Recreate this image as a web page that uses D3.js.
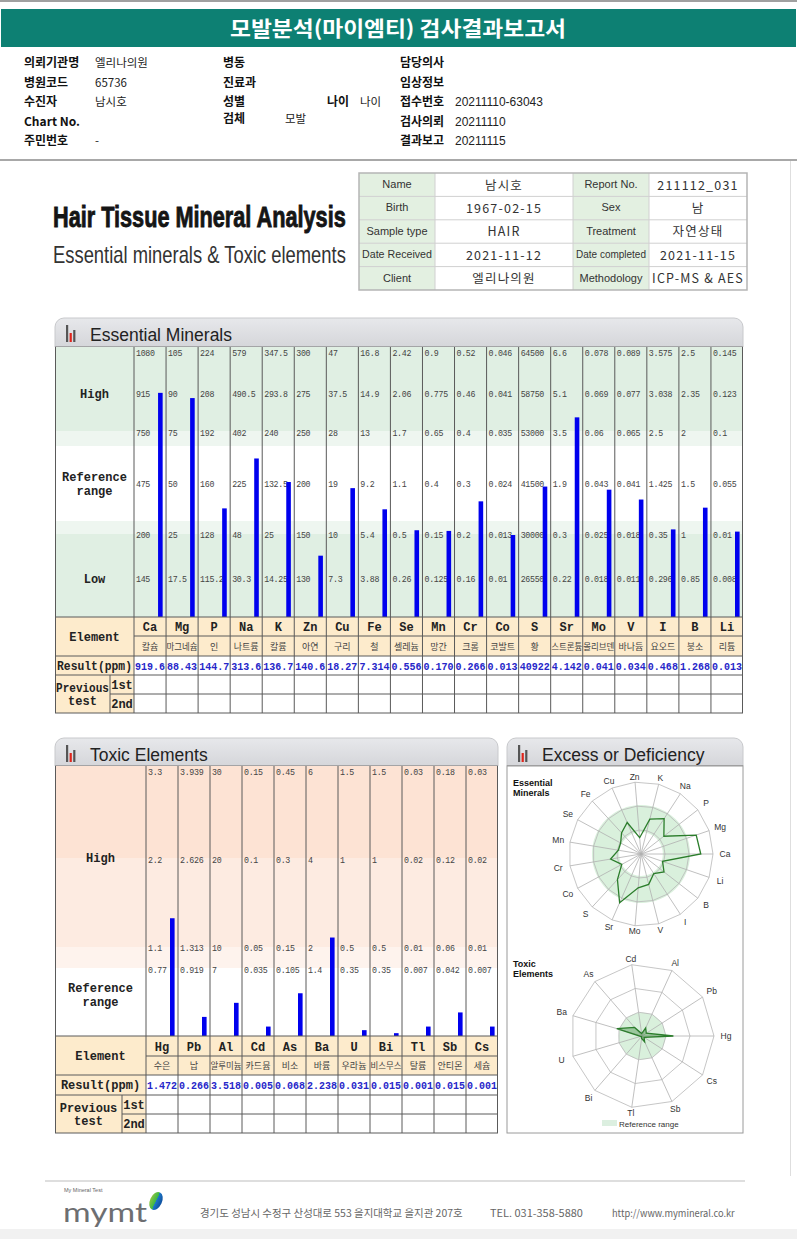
<!DOCTYPE html>
<html><head><meta charset="utf-8">
<script src="https://cdn.jsdelivr.net/npm/d3@7"></script>
<style>html,body{margin:0;padding:0;background:#fff}svg{display:block}</style>
</head><body>
<svg id="chart" width="797" height="1239"></svg>
<script>
// ---------------- DATA ----------------
const reportTitle = "모발분석(마이엠티) 검사결과보고서";
const infoLabelsA = ["의뢰기관명","병원코드","수진자","Chart No.","주민번호"];
const infoValuesA = ["엘리나의원","65736","남시호","","-"];
const infoLabelsB = ["병동","진료과","성별","검체",""];
const infoValuesB = ["","","","모발",""];
const infoLabelsC = ["담당의사","임상정보","접수번호","검사의뢰","결과보고"];
const infoValuesC = ["","","20211110-63043","20211110","20211115"];
const ageLabel = "나이", ageValue = "나이";

const tableLabelsL = ["Name","Birth","Sample type","Date Received","Client"];
const tableValuesL = ["남시호","1967-02-15","HAIR","2021-11-12","엘리나의원"];
const tableLabelsR = ["Report No.","Sex","Treatment","Date completed","Methodology"];
const tableValuesR = ["211112_031","남","자연상태","2021-11-15","ICP-MS & AES"];

const mainTitle = "Hair Tissue Mineral Analysis";
const subTitle = "Essential minerals & Toxic elements";

const essentialElements = ["Ca","Mg","P","Na","K","Zn","Cu","Fe","Se","Mn","Cr","Co","S","Sr","Mo","V","I","B","Li"];
const essentialKorean = ["칼슘","마그네슘","인","나트륨","칼륨","아연","구리","철","셀레늄","망간","크롬","코발트","황","스트론튬","몰리브덴","바나듐","요오드","붕소","리튬"];
const essentialLevels = [
  [1080,915,750,475,200,145],
  [105,90,75,50,25,17.5],
  [224,208,192,160,128,115.2],
  [579,490.5,402,225,48,30.3],
  [347.5,293.8,240,132.5,25,14.25],
  [300,275,250,200,150,130],
  [47,37.5,28,19,10,7.3],
  [16.8,14.9,13,9.2,5.4,3.88],
  [2.42,2.06,1.7,1.1,0.5,0.26],
  [0.9,0.775,0.65,0.4,0.15,0.125],
  [0.52,0.46,0.4,0.3,0.2,0.16],
  [0.046,0.041,0.035,0.024,0.013,0.01],
  [64500,58750,53000,41500,30000,26550],
  [6.6,5.1,3.5,1.9,0.3,0.22],
  [0.078,0.069,0.06,0.043,0.025,0.018],
  [0.089,0.077,0.065,0.041,0.018,0.011],
  [3.575,3.038,2.5,1.425,0.35,0.296],
  [2.5,2.35,2,1.5,1,0.85],
  [0.145,0.123,0.1,0.055,0.01,0.008]
];
const essentialResults = ["919.6","88.43","144.7","313.6","136.7","140.6","18.27","7.314","0.556","0.170","0.266","0.013","40922","4.142","0.041","0.034","0.468","1.268","0.013"];

const toxicElements = ["Hg","Pb","Al","Cd","As","Ba","U","Bi","Tl","Sb","Cs"];
const toxicKorean = ["수은","납","알루미늄","카드뮴","비소","바륨","우라늄","비스무스","탈륨","안티몬","세슘"];
const toxicLevels = [
  [3.3,2.2,1.1,0.77],
  [3.939,2.626,1.313,0.919],
  [30,20,10,7],
  [0.15,0.1,0.05,0.035],
  [0.45,0.3,0.15,0.105],
  [6,4,2,1.4],
  [1.5,1,0.5,0.35],
  [1.5,1,0.5,0.35],
  [0.03,0.02,0.01,0.007],
  [0.18,0.12,0.06,0.042],
  [0.03,0.02,0.01,0.007]
];
const toxicResults = ["1.472","0.266","3.518","0.005","0.068","2.238","0.031","0.015","0.001","0.015","0.001"];

const footerAddress = "경기도 성남시 수정구 산성대로 553 을지대학교 을지관 207호";
const footerTel = "TEL. 031-358-5880";
const footerUrl = "http://www.mymineral.co.kr";

// ---------------- HELPERS ----------------
const KR = "'Noto Sans CJK KR','Noto Sans CJK SC',sans-serif";
const MONO = "'Liberation Mono','DejaVu Sans Mono',monospace";
const SANS = "'Liberation Sans',Arial,sans-serif";
const svg = d3.select("#chart");

// text helper; o.w = exact target width (scaled horizontally), o.fit = max width
function T(p, x, y, s, o = {}) {
  const t = p.append("text").attr("x", x).attr("y", y).text(s)
    .attr("font-family", o.ff || SANS).attr("font-size", o.fs || 12)
    .attr("fill", o.fill || "#222");
  if (o.fw) t.attr("font-weight", o.fw);
  if (o.anchor) t.attr("text-anchor", o.anchor);
  if (o.ls != null) t.attr("letter-spacing", o.ls);
  if (o.stroke) t.attr("stroke", o.fill || "#222").attr("stroke-width", o.stroke);
  if (o.w || o.fit) {
    const w = t.node().getComputedTextLength();
    let k = 1;
    if (o.w) k = o.w / w;
    else if (w > o.fit) k = o.fit / w;
    if (k !== 1) t.attr("x", 0).attr("y", 0).attr("transform", `translate(${x},${y}) scale(${k},1)`);
  }
  return t;
}
function R(p, x, y, w, h, fill, stroke, sw) {
  return p.append("rect").attr("x", x).attr("y", y).attr("width", w).attr("height", h)
    .attr("fill", fill || "none").attr("stroke", stroke || "none").attr("stroke-width", sw || 1);
}
function L(p, x1, y1, x2, y2, c, w) {
  return p.append("line").attr("x1", x1).attr("y1", y1).attr("x2", x2).attr("y2", y2)
    .attr("stroke", c || "#555").attr("stroke-width", w || 1);
}

// ---------------- TOP HEADER ----------------
R(svg, 0, 0, 797, 2, "#a0a0a0");
R(svg, 1, 9, 795, 38, "#0d8073");
T(svg, 398, 36, reportTitle, {ff: KR, fs: 21, fw: 700, fill: "#fff", anchor: "middle", w: 336});

const infoRowY = [67, 86.5, 106, 126, 145];
infoRowY.forEach((y, i) => {
  T(svg, 24, y, infoLabelsA[i], {ff: KR, fs: 12, fw: 700, fill: "#111"});
  T(svg, 95, y, infoValuesA[i], {ff: KR, fs: 11.5, fill: "#222"});
  T(svg, 223, i === 3 ? y - 3 : y, infoLabelsB[i], {ff: KR, fs: 12, fw: 700, fill: "#111"});
  T(svg, 285, i === 3 ? y - 3 : y, infoValuesB[i], {ff: KR, fs: 11.5, fill: "#222"});
  T(svg, 400, y, infoLabelsC[i], {ff: KR, fs: 12, fw: 700, fill: "#111"});
  T(svg, 455, y, infoValuesC[i], {ff: SANS, fs: 12, fill: "#222", fit: 88});
});
T(svg, 327, infoRowY[2], ageLabel, {ff: KR, fs: 12, fw: 700, fill: "#111"});
T(svg, 360, infoRowY[2], ageValue, {ff: KR, fs: 11.5, fill: "#222"});

R(svg, 0, 159, 797, 2, "#a8a8a8");
L(svg, 790.5, 161, 790.5, 1176, "#dedede", 1);

// ---------------- INFO TABLE ----------------
const tb = svg.append("g");
const tX = [359, 435, 573, 649, 747], tTop = 173, tRowH = 23.4;
tableLabelsL.forEach((lab, i) => {
  const y = tTop + i * tRowH;
  R(tb, tX[0], y, tX[1] - tX[0], tRowH, "#e3f0e1");
  R(tb, tX[2], y, tX[3] - tX[2], tRowH, "#e3f0e1");
  T(tb, (tX[0] + tX[1]) / 2, y + 15, lab, {fs: 11, fill: "#333", anchor: "middle", fit: 70});
  T(tb, (tX[2] + tX[3]) / 2, y + 15, tableLabelsR[i], {fs: 11, fill: "#333", anchor: "middle", fit: 70});
  T(tb, (tX[1] + tX[2]) / 2, y + 16.5, tableValuesL[i], {ff: KR, fs: 12.5, fill: "#333", anchor: "middle", ls: 1.2, fit: 130});
  T(tb, (tX[3] + tX[4]) / 2, y + 16.5, tableValuesR[i], {ff: KR, fs: 12.5, fill: "#333", anchor: "middle", ls: 1.2, fit: 95});
  if (i > 0) L(tb, tX[0], y, tX[4], y, "#d0d0d0");
});
[1, 2, 3].forEach(k => L(tb, tX[k], tTop, tX[k], tTop + 5 * tRowH, "#d0d0d0"));
R(tb, tX[0], tTop, tX[4] - tX[0], 5 * tRowH, "none", "#b5b5b5", 1.5);

// ---------------- TITLE ----------------
T(svg, 53, 227, mainTitle, {ff: SANS, fs: 30, fw: 700, fill: "#151515", w: 293, stroke: 0.9});
T(svg, 53, 263, subTitle, {ff: SANS, fs: 23, fill: "#333", w: 293});

// ---------------- PANEL HEADERS ----------------
const defs = svg.append("defs");
const hg = defs.append("linearGradient").attr("id", "hdr").attr("x1", 0).attr("y1", 0).attr("x2", 0).attr("y2", 1);
hg.append("stop").attr("offset", 0).attr("stop-color", "#e7e8eb");
hg.append("stop").attr("offset", 1).attr("stop-color", "#d5d6da");

function panelHeader(x0, x1, y0, y1, title) {
  const r = 9, p = d3.path();
  p.moveTo(x0, y1); p.lineTo(x0, y0 + r); p.arcTo(x0, y0, x0 + r, y0, r);
  p.lineTo(x1 - r, y0); p.arcTo(x1, y0, x1, y0 + r, r); p.lineTo(x1, y1); p.closePath();
  svg.append("path").attr("d", p.toString()).attr("fill", "url(#hdr)").attr("stroke", "#c8c9cc");
  L(svg, x0, y1, x1, y1, "#7a7a7a", 1.2);
  R(svg, x0 + 11, y0 + 7, 2.2, 17, "#555");
  R(svg, x0 + 14.6, y0 + 15, 2.2, 9, "#e0241b");
  R(svg, x0 + 18.2, y0 + 12, 2.2, 12, "#555");
  T(svg, x0 + 35, y0 + 23, title, {fs: 17.5, fill: "#222"});
}
panelHeader(55, 743, 318, 347, "Essential Minerals");
panelHeader(55, 498, 738, 766, "Toxic Elements");
panelHeader(507, 743, 738, 766, "Excess or Deficiency");

// ---------------- BAR PANELS ----------------
function barPanel(c) {
  const g = svg.append("g");
  const x = d3.scaleBand().domain(c.elements).range([c.xLab, c.x1]);
  const bw = x.bandwidth();
  const scales = c.levels.map(lv => d3.scaleLinear().domain([...lv, 0]).range([...c.tickY, c.bottom]).clamp(true));
  c.bands.forEach(b => R(g, c.x0, b[0], c.x1 - c.x0, b[1] - b[0], b[2]));
  c.elements.forEach((el, i) => {
    c.levels[i].forEach(v => {
      T(g, x(el) + 2, scales[i](v) + 3, String(v), {ff: MONO, fs: 8.3, fill: "#444", ls: -0.3, fit: bw - 3});
    });
  });
  g.selectAll("rect.bar").data(c.elements).join("rect").attr("class", "bar")
    .attr("x", d => x(d) + bw - 8).attr("width", 4.6)
    .attr("y", (d, i) => scales[i](+c.results[i]))
    .attr("height", (d, i) => c.bottom - scales[i](+c.results[i]))
    .attr("fill", "#0000ee");
  c.sideLabels.forEach(s => s.lines.forEach((ln, k) =>
    T(g, (c.x0 + c.xLab) / 2, s.y + k * c.lineGap, ln, {ff: MONO, fs: 12, fw: 700, fill: "#222", anchor: "middle"})));
  const ry = c.rowY;
  R(g, c.x0, ry[0], c.x1 - c.x0, ry[2] - ry[0], "#fdebcc");
  R(g, c.x0, ry[2], c.xLab - c.x0, ry[5] - ry[2], "#fdebcc");
  R(g, c.xLab, ry[2], c.x1 - c.xLab, ry[5] - ry[2], "#ffffff");
  c.elements.forEach((el, i) => {
    const cx = x(el) + bw / 2;
    T(g, cx, (ry[0] + ry[1]) / 2 + 4.5, el, {ff: MONO, fs: 12, fw: 700, fill: "#222", anchor: "middle"});
    T(g, cx, (ry[1] + ry[2]) / 2 + 3.5, c.korean[i], {ff: KR, fs: 9, fill: "#444", anchor: "middle", fit: bw - 1});
    T(g, cx, (ry[2] + ry[3]) / 2 + 4, c.results[i], {ff: MONO, fs: 10.5, fw: 700, fill: "#2626c9", anchor: "middle", fit: bw - 2});
  });
  const lc = (c.x0 + c.xLab) / 2;
  T(g, lc, (ry[0] + ry[2]) / 2 + 4, "Element", {ff: MONO, fs: 12, fw: 700, fill: "#222", anchor: "middle"});
  T(g, lc, (ry[2] + ry[3]) / 2 + 4, "Result(ppm)", {ff: MONO, fs: 12, fw: 700, fill: "#222", anchor: "middle", fit: c.xLab - c.x0 - 4});
  T(g, (c.x0 + c.split) / 2, (ry[3] + ry[5]) / 2 - 2, "Previous", {ff: MONO, fs: 12, fw: 700, fill: "#222", anchor: "middle", fit: c.split - c.x0 - 2});
  T(g, (c.x0 + c.split) / 2, (ry[3] + ry[5]) / 2 + 11, "test", {ff: MONO, fs: 12, fw: 700, fill: "#222", anchor: "middle"});
  T(g, (c.split + c.xLab) / 2, (ry[3] + ry[4]) / 2 + 4, "1st", {ff: MONO, fs: 12, fw: 700, fill: "#222", anchor: "middle"});
  T(g, (c.split + c.xLab) / 2, (ry[4] + ry[5]) / 2 + 4, "2nd", {ff: MONO, fs: 12, fw: 700, fill: "#222", anchor: "middle"});
  const gc = "#5a5a5a";
  c.elements.forEach(el => L(g, x(el), c.top, x(el), ry[5], gc));
  L(g, c.x0 + 0.5, c.top, c.x0 + 0.5, ry[5], gc);
  L(g, c.x1 - 0.5, c.top, c.x1 - 0.5, ry[5], gc);
  L(g, c.x0, ry[0], c.x1, ry[0], gc);
  L(g, c.xLab, ry[1], c.x1, ry[1], gc);
  L(g, c.x0, ry[2], c.x1, ry[2], gc);
  L(g, c.x0, ry[3], c.x1, ry[3], gc);
  L(g, c.split, ry[4], c.x1, ry[4], gc);
  L(g, c.x0, ry[5], c.x1, ry[5], gc);
  L(g, c.split, ry[3], c.split, ry[5], gc);
  return scales;
}

const essScales = barPanel({
  elements: essentialElements, korean: essentialKorean, levels: essentialLevels, results: essentialResults,
  x0: 55, xLab: 134, x1: 743, top: 347, bottom: 617,
  tickY: [353, 394, 433, 484, 535, 579],
  bands: [[347, 431, "#e0efe3"], [431, 446, "#eef6f0"], [446, 521, "#ffffff"], [521, 534, "#eef6f0"], [534, 617, "#e0efe3"]],
  sideLabels: [{y: 398, lines: ["High"]}, {y: 480.5, lines: ["Reference", "range"]}, {y: 583, lines: ["Low"]}],
  lineGap: 14,
  rowY: [617, 636, 656, 675, 694, 713], split: 110
});
const toxScales = barPanel({
  elements: toxicElements, korean: toxicKorean, levels: toxicLevels, results: toxicResults,
  x0: 55, xLab: 146, x1: 498, top: 766, bottom: 1036,
  tickY: [772, 860, 948, 970],
  bands: [[766, 858, "#fde3d4"], [858, 947, "#fdebe1"], [947, 968, "#fef3ed"], [968, 1036, "#ffffff"]],
  sideLabels: [{y: 862, lines: ["High"]}, {y: 992, lines: ["Reference", "range"]}],
  lineGap: 14,
  rowY: [1036, 1056, 1075, 1095, 1114, 1133], split: 122
});

// ---------------- RADAR PANEL ----------------
R(svg, 507, 766, 236, 367, "#fff", "#9a9a9a", 1);

function radar(c) {
  const g = svg.append("g");
  const n = c.elements.length, Rr = c.R;
  const ang = i => -i * 2 * Math.PI / n;
  const frac = (s, v) => (c.bottom - s(v)) / (c.bottom - c.top);
  const rScale = d3.scaleLinear().domain([0, 1]).range([0, Rr]);
  const p = d3.path();
  p.arc(c.cx, c.cy, rScale(c.refOuter), 0, 2 * Math.PI);
  if (c.refInner > 0) { p.moveTo(c.cx + rScale(c.refInner), c.cy); p.arc(c.cx, c.cy, rScale(c.refInner), 0, 2 * Math.PI); }
  g.append("path").attr("d", p.toString()).attr("fill", "#d9f0dc").attr("fill-rule", "evenodd");
  [1 / 3, 2 / 3, 1].forEach(k => {
    const pts = d3.range(n).map(i => [c.cx + rScale(k) * Math.cos(ang(i)), c.cy + rScale(k) * Math.sin(ang(i))]);
    g.append("polygon").attr("points", pts.map(q => q.join(",")).join(" ")).attr("fill", "none").attr("stroke", "#b8b8b8").attr("stroke-width", 0.8);
  });
  c.elements.forEach((el, i) => {
    const a = ang(i);
    L(g, c.cx, c.cy, c.cx + Rr * Math.cos(a), c.cy + Rr * Math.sin(a), "#b0b0b0", 0.8);
    const lr = Rr + 5 + Math.abs(Math.cos(a)) * 7;
    T(g, c.cx + lr * Math.cos(a), c.cy + lr * Math.sin(a) + 3, el, {fs: 8.5, fill: "#333", anchor: "middle"});
  });
  const pts = c.elements.map((el, i) => {
    const r = rScale(frac(c.scales[i], +c.results[i]));
    return [c.cx + r * Math.cos(ang(i)), c.cy + r * Math.sin(ang(i))];
  });
  g.append("path").attr("d", d3.line().curve(d3.curveLinearClosed)(pts))
    .attr("fill", c.fill).attr("stroke", "#2b7d2b").attr("stroke-width", 1.3);
  c.title.forEach((t, k) => T(g, 513, c.titleY + k * 9.5, t, {fs: 9, fw: 700, fill: "#111"}));
}

radar({
  elements: essentialElements, results: essentialResults, scales: essScales,
  cx: 641, cy: 854, R: 72, top: 347, bottom: 617,
  refInner: (617 - 535) / 270, refOuter: (617 - 433) / 270,
  fill: "none", title: ["Essential", "Minerals"], titleY: 786
});
radar({
  elements: toxicElements, results: toxicResults, scales: toxScales,
  cx: 642, cy: 1036, R: 72, top: 766, bottom: 1036,
  refInner: 0, refOuter: (1036 - 948) / 270,
  fill: "rgba(40,125,40,0.35)", title: ["Toxic", "Elements"], titleY: 967
});
R(svg, 602, 1120, 15, 6, "#dcefe0");
T(svg, 619, 1127, "Reference range", {fs: 8, fill: "#333"});

// ---------------- FOOTER ----------------
L(svg, 45, 1181, 745, 1181, "#bdbdbd", 1);
T(svg, 64, 1192, "My Mineral Test", {fs: 5.5, fill: "#666"});
T(svg, 63, 1222, "mymt", {ff: "Lato,'Open Sans',sans-serif", fs: 26, fill: "#6d6e71", w: 84});
const lg = defs.append("linearGradient").attr("id", "leaf").attr("x1", 0).attr("y1", 0).attr("x2", 1).attr("y2", 0);
lg.append("stop").attr("offset", 0).attr("stop-color", "#8cc63f");
lg.append("stop").attr("offset", 0.5).attr("stop-color", "#39b54a");
lg.append("stop").attr("offset", 0.5).attr("stop-color", "#1f78c8");
lg.append("stop").attr("offset", 1).attr("stop-color", "#0d4f9e");
svg.append("ellipse").attr("cx", 156).attr("cy", 1201).attr("rx", 6).attr("ry", 9.5)
  .attr("transform", "rotate(25,156,1201)").attr("fill", "url(#leaf)");
T(svg, 200, 1217, footerAddress, {ff: KR, fs: 10, fill: "#666", w: 263});
T(svg, 490, 1217, footerTel, {ff: KR, fs: 10, fill: "#666", w: 93});
T(svg, 612, 1217, footerUrl, {ff: KR, fs: 10, fill: "#666", w: 123});
R(svg, 0, 1229, 797, 10, "#f1f1f1");
</script>
</body></html>
